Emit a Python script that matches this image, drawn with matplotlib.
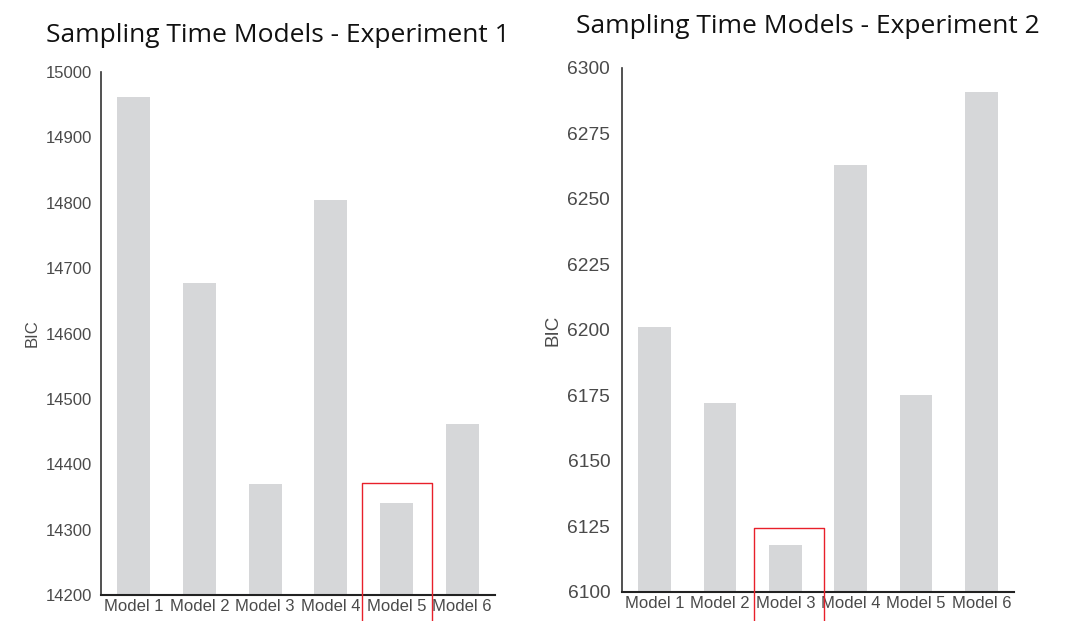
import matplotlib
matplotlib.use("Agg")
import matplotlib.pyplot as plt

categories = ["Model 1", "Model 2", "Model 3", "Model 4", "Model 5", "Model 6"]
exp1_bic = [14962, 14677, 14370, 14804, 14341, 14461]
exp2_bic = [6201, 6172, 6118, 6263, 6175, 6291]
exp1_ticks = [14200, 14300, 14400, 14500, 14600, 14700, 14800, 14900, 15000]
exp2_ticks = [6100, 6125, 6150, 6175, 6200, 6225, 6250, 6275, 6300]
titles = ["Sampling Time Models - Experiment 1", "Sampling Time Models - Experiment 2"]
box_tops = [14371, 6124.5]
box_x = [(3.48, 4.535), (1.52, 2.59)]

bar_color = "#d6d7d9"
text_color = "#4a4a4a"

fig = plt.figure(figsize=(10.78, 6.21), dpi=100)
ax1 = fig.add_axes([0.0937, 0.0419, 0.3655, 0.8421])
ax2 = fig.add_axes([0.5770, 0.0467, 0.3636, 0.8438])

panels = [
    (ax1, exp1_bic, exp1_ticks, box_x[0], box_tops[0], 12, 6.5, 12, 4),
    (ax2, exp2_bic, exp2_ticks, box_x[1], box_tops[1], 13.8, 8.5, 13.5, 4),
]

for ax, vals, ticks, bx, btop, yfs, ypad, lfs, lpad in panels:
    x = list(range(len(categories)))
    ax.bar(x, vals, width=0.5, color=bar_color)
    ax.set_xlim(-0.5, 5.5)
    ax.set_ylim(ticks[0], ticks[-1])
    ax.set_yticks(ticks)
    ax.set_xticks(x)
    ax.set_xticklabels(categories, fontfamily="Liberation Sans", fontsize=12, color=text_color)
    ax.set_yticklabels([str(t) for t in ticks], fontfamily="Liberation Sans", fontsize=yfs, color=text_color)
    ax.tick_params(axis="both", length=0)
    ax.tick_params(axis="y", pad=ypad)
    ax.tick_params(axis="x", pad=3)
    for s in ["top", "right"]:
        ax.spines[s].set_visible(False)
    ax.spines["left"].set_color("#333333")
    ax.spines["bottom"].set_color("#222222")
    ax.spines["left"].set_linewidth(1.2)
    ax.spines["bottom"].set_linewidth(1.5)
    ax.set_ylabel("BIC", fontfamily="Liberation Sans", fontsize=lfs, color=text_color, labelpad=lpad)
    # highlight box (open at the bottom, extends below the axis)
    y_low = ticks[0] - (ticks[-1] - ticks[0]) * 0.06
    ax.plot([bx[0], bx[0], bx[1], bx[1]], [y_low, btop, btop, y_low],
            color="#e8202a", lw=1.0, clip_on=False, zorder=5)

fig.text(0.258, 0.932, titles[0], fontfamily="Open Sans", fontsize=19, color="#111111",
         ha="center", va="baseline")
fig.text(0.749, 0.947, titles[1], fontfamily="Open Sans", fontsize=19, color="#111111",
         ha="center", va="baseline")

fig.savefig("out.png", dpi=100)
